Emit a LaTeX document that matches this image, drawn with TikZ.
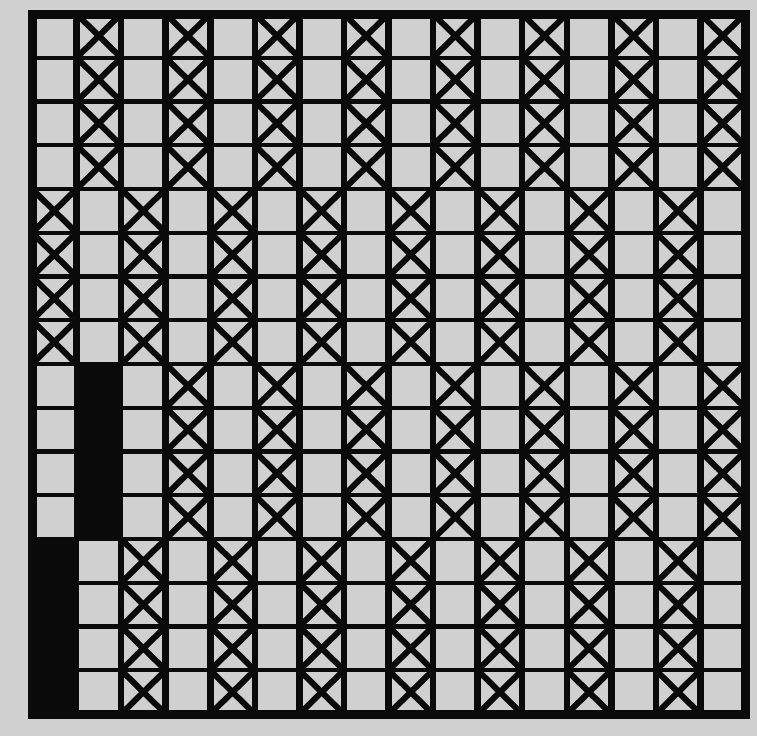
\documentclass[tikz,border=0pt]{standalone}
\definecolor{paper}{RGB}{208,208,208}
\definecolor{ink}{RGB}{10,10,10}
\tikzset{
  gridline/.style={draw=ink, line width=4.4pt},
  crossline/.style={draw=ink, line width=6pt, line cap=round},
  colline/.style={draw=ink, line width=6.5pt},
  frameline/.style={draw=ink, line width=9pt, line join=miter},
  solidcell/.style={fill=ink}
}
\begin{document}
\begin{tikzpicture}
\fill[paper] (0,0) rectangle (757pt,-736pt);
\useasboundingbox (0,0) rectangle (757pt,-736pt);
\begin{scope}[shift={(32pt,-14pt)}, x=44.5625pt, y=-43.75pt]
  % solid black cells
  \fill[solidcell] (1,8) rectangle (2,12);
  \fill[solidcell] (0,12) rectangle (1,16);
  % grid
  \foreach \r in {1,...,15} \draw[gridline] (0,\r) -- (16,\r);
  \foreach \c in {1,...,15} \draw[gridline] (\c,0) -- (\c,16);
  % crosses with their column borders
  \foreach \c in {1,3,...,15} {
    \draw[colline] (\c,0) -- (\c,4) (\c+1,0) -- (\c+1,4);
    \foreach \r in {0,...,3}
      \draw[crossline] (\c,\r) -- (\c+1,\r+1) (\c+1,\r) -- (\c,\r+1);
  }
  \foreach \c in {0,2,...,14} {
    \draw[colline] (\c,4) -- (\c,8) (\c+1,4) -- (\c+1,8);
    \foreach \r in {4,...,7}
      \draw[crossline] (\c,\r) -- (\c+1,\r+1) (\c+1,\r) -- (\c,\r+1);
  }
  \foreach \c in {3,5,...,15} {
    \draw[colline] (\c,8) -- (\c,12) (\c+1,8) -- (\c+1,12);
    \foreach \r in {8,...,11}
      \draw[crossline] (\c,\r) -- (\c+1,\r+1) (\c+1,\r) -- (\c,\r+1);
  }
  \foreach \c in {2,4,...,14} {
    \draw[colline] (\c,12) -- (\c,16) (\c+1,12) -- (\c+1,16);
    \foreach \r in {12,...,15}
      \draw[crossline] (\c,\r) -- (\c+1,\r+1) (\c+1,\r) -- (\c,\r+1);
  }
  % frame
  \draw[frameline] (0,0) rectangle (16,16);
\end{scope}
\end{tikzpicture}
\end{document}
